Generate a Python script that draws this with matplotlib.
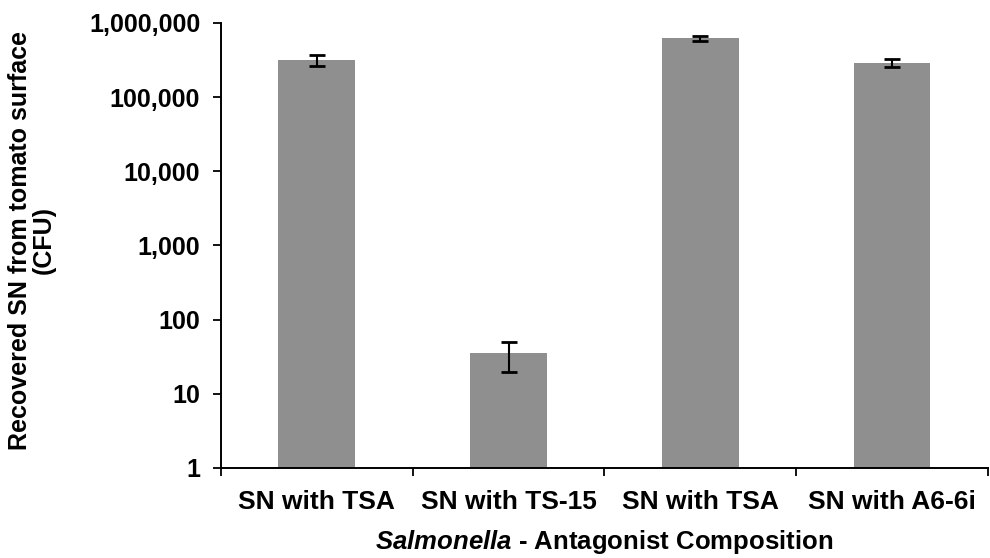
import matplotlib
matplotlib.use("Agg")
import matplotlib.pyplot as plt
from matplotlib.ticker import FixedLocator, FuncFormatter

plt.rcParams['font.family'] = ['Liberation Sans', 'DejaVu Sans']
plt.rcParams['font.weight'] = 'bold'
plt.rcParams['mathtext.fontset'] = 'custom'
plt.rcParams['mathtext.it'] = 'Liberation Sans:italic:bold'
plt.rcParams['mathtext.rm'] = 'Liberation Sans:bold'

categories = ["SN with TSA", "SN with TS-15", "SN with TSA", "SN with A6-6i"]
cfu = [315000, 35, 620000, 290000]
cfu_err = [50000, 15, 40000, 35000]
y_ticks = [1, 10, 100, 1000, 10000, 100000, 1000000]

fig = plt.figure(figsize=(9.9, 5.58), dpi=100)
ax = fig.add_axes([0.2232, 0.1613, 0.7747, 0.7975])

x = list(range(len(categories)))
ax.bar(x, cfu, width=0.4, color="#8f8f8f", zorder=2)
ax.errorbar(x, cfu, yerr=cfu_err, fmt="none", ecolor="black",
            elinewidth=1.5, capsize=5.5, capthick=2, zorder=3)

ax.set_yscale("log")
ax.set_ylim(1, 1000000)
ax.set_xlim(-0.5, len(categories) - 0.5)
ax.yaxis.set_major_locator(FixedLocator(y_ticks))
ax.yaxis.set_minor_locator(FixedLocator([]))
ax.yaxis.set_major_formatter(FuncFormatter(lambda v, p: f"{int(round(v)):,}"))

ax.set_xticks(x)
ax.set_xticklabels(categories)
ax.set_xticks([i - 0.5 for i in range(len(categories) + 1)], minor=True)
ax.tick_params(axis="x", which="major", length=0, pad=16, labelsize=19)
ax.tick_params(axis="x", which="minor", length=6, width=1.3, direction="out")
ax.tick_params(axis="y", which="major", length=6, width=1.3, direction="out",
               labelsize=18, pad=9)

for s in ["top", "right"]:
    ax.spines[s].set_visible(False)
for s in ["left", "bottom"]:
    ax.spines[s].set_linewidth(1.4)

ax.set_ylabel("Recovered SN from tomato surface\n(CFU)", fontsize=18,
              fontweight="bold", linespacing=1.0)
ax.yaxis.set_label_coords(-0.215, 0.512)
ax.set_xlabel(r"$\mathit{Salmonella}$ - Antagonist Composition", fontsize=18.5,
              fontweight="bold", labelpad=10)

fig.savefig("out.png", dpi=100)
